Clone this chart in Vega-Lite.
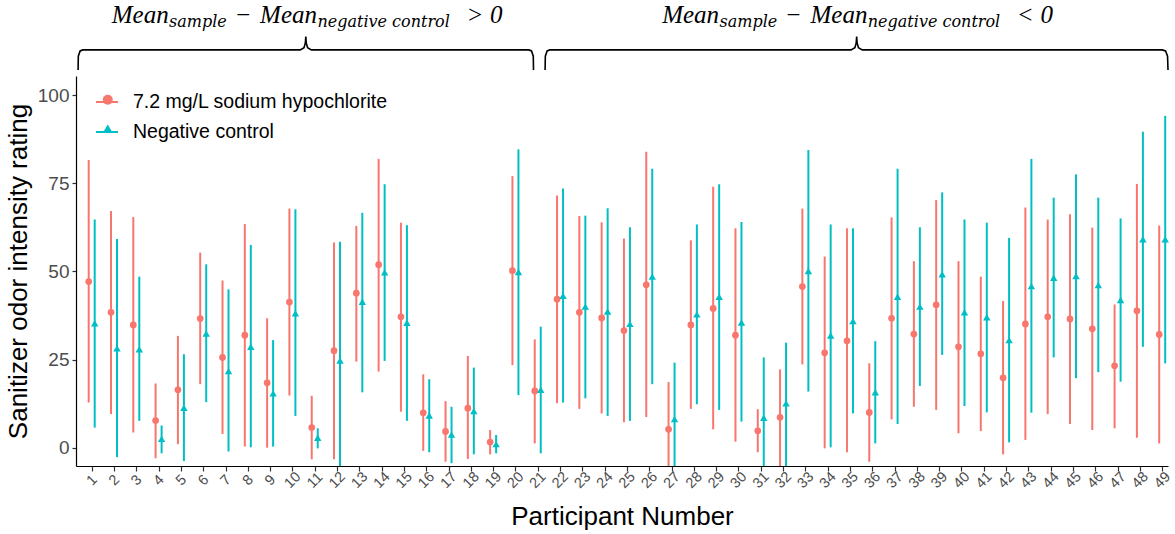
{
  "$schema": "https://vega.github.io/schema/vega-lite/v6.json",
  "width": 1092,
  "height": 390,
  "autosize": {"type": "none"},
  "padding": {"left": 76, "top": 76, "right": 7, "bottom": 68},
  "config": {
    "font": "Liberation Sans",
    "view": {"stroke": null},
    "axis": {
      "grid": false,
      "domainColor": "black",
      "domainWidth": 1.2,
      "tickColor": "#333333",
      "tickWidth": 1.2,
      "labelColor": "#4D4D4D",
      "titleColor": "black",
      "titleFontWeight": "normal",
      "titleFontSize": 26
    },
    "axisX": {"labelOverlap": false, "labelFlush": false}
  },
  "datasets": {
    "ratings": [
      {"p": 1, "g": "7.2 mg/L sodium hypochlorite", "m": 47.1, "lo": 12.8, "hi": 81.6},
      {"p": 1, "g": "Negative control", "m": 35.3, "lo": 5.7, "hi": 64.7},
      {"p": 2, "g": "7.2 mg/L sodium hypochlorite", "m": 38.4, "lo": 9.5, "hi": 67.1},
      {"p": 2, "g": "Negative control", "m": 28.2, "lo": -2.7, "hi": 59.2},
      {"p": 3, "g": "7.2 mg/L sodium hypochlorite", "m": 34.8, "lo": 4.3, "hi": 65.4},
      {"p": 3, "g": "Negative control", "m": 27.9, "lo": 7.6, "hi": 48.5},
      {"p": 4, "g": "7.2 mg/L sodium hypochlorite", "m": 7.7, "lo": -3.0, "hi": 18.2},
      {"p": 4, "g": "Negative control", "m": 2.5, "lo": -1.6, "hi": 6.3},
      {"p": 5, "g": "7.2 mg/L sodium hypochlorite", "m": 16.4, "lo": 1.0, "hi": 31.7},
      {"p": 5, "g": "Negative control", "m": 11.3, "lo": -3.8, "hi": 26.5},
      {"p": 6, "g": "7.2 mg/L sodium hypochlorite", "m": 36.6, "lo": 18.0, "hi": 55.3},
      {"p": 6, "g": "Negative control", "m": 32.4, "lo": 12.9, "hi": 52.0},
      {"p": 7, "g": "7.2 mg/L sodium hypochlorite", "m": 25.6, "lo": 3.9, "hi": 47.4},
      {"p": 7, "g": "Negative control", "m": 21.7, "lo": -1.1, "hi": 44.9},
      {"p": 8, "g": "7.2 mg/L sodium hypochlorite", "m": 31.9, "lo": 0.3, "hi": 63.4},
      {"p": 8, "g": "Negative control", "m": 28.6, "lo": 0.1, "hi": 57.5},
      {"p": 9, "g": "7.2 mg/L sodium hypochlorite", "m": 18.4, "lo": 0.0, "hi": 36.7},
      {"p": 9, "g": "Negative control", "m": 15.4, "lo": 0.3, "hi": 30.5},
      {"p": 10, "g": "7.2 mg/L sodium hypochlorite", "m": 41.3, "lo": 14.8, "hi": 67.8},
      {"p": 10, "g": "Negative control", "m": 38.1, "lo": 9.0, "hi": 67.6},
      {"p": 11, "g": "7.2 mg/L sodium hypochlorite", "m": 5.7, "lo": -3.3, "hi": 14.7},
      {"p": 11, "g": "Negative control", "m": 2.8, "lo": -0.2, "hi": 5.5},
      {"p": 12, "g": "7.2 mg/L sodium hypochlorite", "m": 27.5, "lo": -3.3, "hi": 58.2},
      {"p": 12, "g": "Negative control", "m": 24.7, "lo": -9.0, "hi": 58.4},
      {"p": 13, "g": "7.2 mg/L sodium hypochlorite", "m": 43.8, "lo": 24.4, "hi": 62.9},
      {"p": 13, "g": "Negative control", "m": 41.4, "lo": 15.7, "hi": 66.6},
      {"p": 14, "g": "7.2 mg/L sodium hypochlorite", "m": 51.9, "lo": 21.6, "hi": 81.9},
      {"p": 14, "g": "Negative control", "m": 49.7, "lo": 24.6, "hi": 74.7},
      {"p": 15, "g": "7.2 mg/L sodium hypochlorite", "m": 37.1, "lo": 10.2, "hi": 63.8},
      {"p": 15, "g": "Negative control", "m": 35.4, "lo": 7.6, "hi": 63.1},
      {"p": 16, "g": "7.2 mg/L sodium hypochlorite", "m": 9.9, "lo": -0.9, "hi": 20.8},
      {"p": 16, "g": "Negative control", "m": 9.1, "lo": -1.3, "hi": 19.4},
      {"p": 17, "g": "7.2 mg/L sodium hypochlorite", "m": 4.6, "lo": -4.0, "hi": 13.2},
      {"p": 17, "g": "Negative control", "m": 3.7, "lo": -4.4, "hi": 11.6},
      {"p": 18, "g": "7.2 mg/L sodium hypochlorite", "m": 11.2, "lo": -3.2, "hi": 26.0},
      {"p": 18, "g": "Negative control", "m": 10.4, "lo": -1.9, "hi": 22.7},
      {"p": 19, "g": "7.2 mg/L sodium hypochlorite", "m": 1.6, "lo": -1.9, "hi": 5.0},
      {"p": 19, "g": "Negative control", "m": 1.0, "lo": -1.6, "hi": 3.6},
      {"p": 20, "g": "7.2 mg/L sodium hypochlorite", "m": 50.2, "lo": 23.4, "hi": 77.0},
      {"p": 20, "g": "Negative control", "m": 49.8, "lo": 14.9, "hi": 84.6},
      {"p": 21, "g": "7.2 mg/L sodium hypochlorite", "m": 16.1, "lo": 1.2, "hi": 30.7},
      {"p": 21, "g": "Negative control", "m": 16.4, "lo": -1.6, "hi": 34.3},
      {"p": 22, "g": "7.2 mg/L sodium hypochlorite", "m": 42.1, "lo": 12.6, "hi": 71.5},
      {"p": 22, "g": "Negative control", "m": 43.1, "lo": 12.8, "hi": 73.5},
      {"p": 23, "g": "7.2 mg/L sodium hypochlorite", "m": 38.4, "lo": 11.0, "hi": 65.7},
      {"p": 23, "g": "Negative control", "m": 40.0, "lo": 14.0, "hi": 65.8},
      {"p": 24, "g": "7.2 mg/L sodium hypochlorite", "m": 36.8, "lo": 9.7, "hi": 63.9},
      {"p": 24, "g": "Negative control", "m": 38.6, "lo": 9.0, "hi": 67.9},
      {"p": 25, "g": "7.2 mg/L sodium hypochlorite", "m": 33.2, "lo": 7.2, "hi": 59.3},
      {"p": 25, "g": "Negative control", "m": 35.1, "lo": 7.6, "hi": 62.5},
      {"p": 26, "g": "7.2 mg/L sodium hypochlorite", "m": 46.2, "lo": 8.7, "hi": 83.9},
      {"p": 26, "g": "Negative control", "m": 48.5, "lo": 18.0, "hi": 79.1},
      {"p": 27, "g": "7.2 mg/L sodium hypochlorite", "m": 5.2, "lo": -9.0, "hi": 18.6},
      {"p": 27, "g": "Negative control", "m": 8.1, "lo": -9.0, "hi": 24.1},
      {"p": 28, "g": "7.2 mg/L sodium hypochlorite", "m": 34.8, "lo": 11.0, "hi": 58.8},
      {"p": 28, "g": "Negative control", "m": 37.8, "lo": 12.3, "hi": 63.3},
      {"p": 29, "g": "7.2 mg/L sodium hypochlorite", "m": 39.5, "lo": 5.2, "hi": 74.0},
      {"p": 29, "g": "Negative control", "m": 42.8, "lo": 10.7, "hi": 74.7},
      {"p": 30, "g": "7.2 mg/L sodium hypochlorite", "m": 31.9, "lo": 1.7, "hi": 62.2},
      {"p": 30, "g": "Negative control", "m": 35.5, "lo": 7.4, "hi": 64.0},
      {"p": 31, "g": "7.2 mg/L sodium hypochlorite", "m": 4.8, "lo": -1.3, "hi": 10.9},
      {"p": 31, "g": "Negative control", "m": 8.5, "lo": -9.0, "hi": 25.6},
      {"p": 32, "g": "7.2 mg/L sodium hypochlorite", "m": 8.6, "lo": -9.0, "hi": 22.2},
      {"p": 32, "g": "Negative control", "m": 12.6, "lo": -9.0, "hi": 29.8},
      {"p": 33, "g": "7.2 mg/L sodium hypochlorite", "m": 45.7, "lo": 23.6, "hi": 67.8},
      {"p": 33, "g": "Negative control", "m": 50.1, "lo": 15.9, "hi": 84.4},
      {"p": 34, "g": "7.2 mg/L sodium hypochlorite", "m": 26.9, "lo": -0.2, "hi": 54.2},
      {"p": 34, "g": "Negative control", "m": 31.8, "lo": 0.1, "hi": 63.3},
      {"p": 35, "g": "7.2 mg/L sodium hypochlorite", "m": 30.3, "lo": -1.3, "hi": 62.2},
      {"p": 35, "g": "Negative control", "m": 35.9, "lo": 9.7, "hi": 62.2},
      {"p": 36, "g": "7.2 mg/L sodium hypochlorite", "m": 10.0, "lo": -4.0, "hi": 23.9},
      {"p": 36, "g": "Negative control", "m": 15.7, "lo": 1.2, "hi": 30.2},
      {"p": 37, "g": "7.2 mg/L sodium hypochlorite", "m": 36.7, "lo": 8.0, "hi": 65.3},
      {"p": 37, "g": "Negative control", "m": 42.8, "lo": 6.7, "hi": 79.1},
      {"p": 38, "g": "7.2 mg/L sodium hypochlorite", "m": 32.2, "lo": 11.6, "hi": 52.9},
      {"p": 38, "g": "Negative control", "m": 40.0, "lo": 17.5, "hi": 62.5},
      {"p": 39, "g": "7.2 mg/L sodium hypochlorite", "m": 40.5, "lo": 10.7, "hi": 70.2},
      {"p": 39, "g": "Negative control", "m": 49.2, "lo": 26.3, "hi": 72.4},
      {"p": 40, "g": "7.2 mg/L sodium hypochlorite", "m": 28.6, "lo": 4.1, "hi": 52.9},
      {"p": 40, "g": "Negative control", "m": 38.4, "lo": 11.8, "hi": 64.7},
      {"p": 41, "g": "7.2 mg/L sodium hypochlorite", "m": 26.6, "lo": 4.7, "hi": 48.5},
      {"p": 41, "g": "Negative control", "m": 37.0, "lo": 10.0, "hi": 63.8},
      {"p": 42, "g": "7.2 mg/L sodium hypochlorite", "m": 19.8, "lo": -1.9, "hi": 41.6},
      {"p": 42, "g": "Negative control", "m": 30.5, "lo": 1.5, "hi": 59.5},
      {"p": 43, "g": "7.2 mg/L sodium hypochlorite", "m": 35.1, "lo": 2.2, "hi": 68.1},
      {"p": 43, "g": "Negative control", "m": 45.8, "lo": 9.9, "hi": 81.9},
      {"p": 44, "g": "7.2 mg/L sodium hypochlorite", "m": 37.1, "lo": 9.5, "hi": 64.7},
      {"p": 44, "g": "Negative control", "m": 48.2, "lo": 25.6, "hi": 70.9},
      {"p": 45, "g": "7.2 mg/L sodium hypochlorite", "m": 36.5, "lo": 6.7, "hi": 66.2},
      {"p": 45, "g": "Negative control", "m": 48.7, "lo": 19.7, "hi": 77.5},
      {"p": 46, "g": "7.2 mg/L sodium hypochlorite", "m": 33.7, "lo": 5.0, "hi": 62.4},
      {"p": 46, "g": "Negative control", "m": 46.1, "lo": 21.4, "hi": 70.9},
      {"p": 47, "g": "7.2 mg/L sodium hypochlorite", "m": 23.2, "lo": 5.5, "hi": 40.6},
      {"p": 47, "g": "Negative control", "m": 41.9, "lo": 18.7, "hi": 65.0},
      {"p": 48, "g": "7.2 mg/L sodium hypochlorite", "m": 38.8, "lo": 2.8, "hi": 74.8},
      {"p": 48, "g": "Negative control", "m": 59.1, "lo": 28.6, "hi": 89.6},
      {"p": 49, "g": "7.2 mg/L sodium hypochlorite", "m": 32.1, "lo": 1.2, "hi": 63.0},
      {"p": 49, "g": "Negative control", "m": 59.1, "lo": 23.9, "hi": 94.1}
    ],
    "brace": [
      {"b": "pos", "i": 1, "x": 0.39, "y": 107.1},
      {"b": "pos", "i": 2, "x": 0.4, "y": 111.0},
      {"b": "pos", "i": 3, "x": 0.48, "y": 112.5},
      {"b": "pos", "i": 4, "x": 0.6, "y": 112.8},
      {"b": "pos", "i": 5, "x": 10.35, "y": 112.8},
      {"b": "pos", "i": 6, "x": 10.52, "y": 113.4},
      {"b": "pos", "i": 7, "x": 10.58, "y": 114.8},
      {"b": "pos", "i": 8, "x": 10.6, "y": 116.6},
      {"b": "pos", "i": 9, "x": 10.62, "y": 114.8},
      {"b": "pos", "i": 10, "x": 10.68, "y": 113.4},
      {"b": "pos", "i": 11, "x": 10.85, "y": 112.8},
      {"b": "pos", "i": 12, "x": 20.6, "y": 112.8},
      {"b": "pos", "i": 13, "x": 20.72, "y": 112.5},
      {"b": "pos", "i": 14, "x": 20.8, "y": 111.0},
      {"b": "pos", "i": 15, "x": 20.81, "y": 107.1},
      {"b": "neg", "i": 1, "x": 21.33, "y": 107.1},
      {"b": "neg", "i": 2, "x": 21.34, "y": 111.0},
      {"b": "neg", "i": 3, "x": 21.42, "y": 112.5},
      {"b": "neg", "i": 4, "x": 21.54, "y": 112.8},
      {"b": "neg", "i": 5, "x": 35.05, "y": 112.8},
      {"b": "neg", "i": 6, "x": 35.22, "y": 113.4},
      {"b": "neg", "i": 7, "x": 35.28, "y": 114.8},
      {"b": "neg", "i": 8, "x": 35.3, "y": 116.6},
      {"b": "neg", "i": 9, "x": 35.32, "y": 114.8},
      {"b": "neg", "i": 10, "x": 35.38, "y": 113.4},
      {"b": "neg", "i": 11, "x": 35.55, "y": 112.8},
      {"b": "neg", "i": 12, "x": 49.0, "y": 112.8},
      {"b": "neg", "i": 13, "x": 49.15, "y": 112.5},
      {"b": "neg", "i": 14, "x": 49.24, "y": 111.0},
      {"b": "neg", "i": 15, "x": 49.26, "y": 107.1}
    ],
    "note": [
      {"x": 1.9, "t": "Mean", "part": "main"},
      {"x": 4.47, "t": "sample", "part": "sub"},
      {"x": 7.4, "t": "−", "part": "main"},
      {"x": 8.55, "t": "Mean", "part": "main"},
      {"x": 11.12, "t": "negative control", "part": "sub"},
      {"x": 17.8, "t": ">", "part": "main"},
      {"x": 18.86, "t": "0", "part": "main"},
      {"x": 26.58, "t": "Mean", "part": "main"},
      {"x": 29.15, "t": "sample", "part": "sub"},
      {"x": 32.08, "t": "−", "part": "main"},
      {"x": 33.23, "t": "Mean", "part": "main"},
      {"x": 35.8, "t": "negative control", "part": "sub"},
      {"x": 42.48, "t": "<", "part": "main"},
      {"x": 43.54, "t": "0", "part": "main"}
    ]
  },
  "layer": [
    {
      "data": {"name": "ratings"},
      "transform": [{"filter": "datum.g === '7.2 mg/L sodium hypochlorite'"}],
      "mark": {"type": "rule", "strokeWidth": 2, "xOffset": -3, "clip": true},
      "encoding": {
        "x": {
          "field": "p",
          "type": "quantitative",
          "scale": {"domain": [0.296, 49.26], "nice": false, "zero": false},
          "axis": {
            "title": "Participant Number",
            "values": [1, 2, 3, 4, 5, 6, 7, 8, 9, 10, 11, 12, 13, 14, 15, 16, 17, 18, 19, 20, 21, 22, 23, 24, 25, 26, 27, 28, 29, 30, 31, 32, 33, 34, 35, 36, 37, 38, 39, 40, 41, 42, 43, 44, 45, 46, 47, 48, 49],
            "tickCount": 60,
            "format": "d",
            "labelAngle": -45,
            "labelAlign": "center",
            "labelBaseline": "middle",
            "labelFontSize": 14.5,
            "labelPadding": 9,
            "labelOverlap": false,
            "labelFlush": false,
            "tickSize": 5,
            "titlePadding": 13
          }
        },
        "y": {
          "field": "lo",
          "type": "quantitative",
          "scale": {"domain": [-5.2, 105.4], "nice": false, "zero": false},
          "axis": {
            "title": "Sanitizer odor intensity rating",
            "values": [0, 25, 50, 75, 100],
            "labelFontSize": 19,
            "labelPadding": 3,
            "tickSize": 4,
            "titlePadding": 6
          }
        },
        "y2": {"field": "hi"},
        "stroke": {
          "field": "g",
          "type": "nominal",
          "scale": {"domain": ["7.2 mg/L sodium hypochlorite", "Negative control"], "range": ["#F8766D", "#00BFC4"]},
          "legend": {
            "orient": "none",
            "legendX": 19,
            "legendY": 14,
            "title": null,
            "padding": 0,
            "symbolType": "stroke",
            "symbolSize": 484,
            "symbolStrokeWidth": 2,
            "labelFontSize": 19.5,
            "labelColor": "black",
            "labelOffset": 14,
            "labelLimit": 400,
            "rowPadding": 8
          }
        }
      }
    },
    {
      "data": {"name": "ratings"},
      "transform": [{"filter": "datum.g === 'Negative control'"}],
      "mark": {"type": "rule", "strokeWidth": 2, "xOffset": 3, "clip": true},
      "encoding": {
        "x": {"field": "p", "type": "quantitative"},
        "y": {"field": "lo", "type": "quantitative"},
        "y2": {"field": "hi"},
        "stroke": {"field": "g", "type": "nominal"}
      }
    },
    {
      "data": {"name": "ratings"},
      "transform": [{"filter": "datum.g === '7.2 mg/L sodium hypochlorite'"}],
      "mark": {"type": "point", "filled": true, "opacity": 1, "size": 45, "strokeWidth": 0, "xOffset": -3},
      "encoding": {
        "x": {"field": "p", "type": "quantitative"},
        "y": {"field": "m", "type": "quantitative"},
        "fill": {
          "field": "g",
          "type": "nominal",
          "scale": {"range": ["#F8766D", "#00BFC4"]},
          "legend": {
            "orient": "none",
            "legendX": 22,
            "legendY": 14,
            "title": null,
            "padding": 0,
            "symbolStrokeWidth": 0,
            "labelFontSize": 19.5,
            "labelExpr": "' '",
            "labelLimit": 400,
            "rowPadding": 8
          }
        },
        "shape": {
          "field": "g",
          "type": "nominal",
          "scale": {"range": ["circle", "triangle-up"]},
          "legend": {
            "orient": "none",
            "legendX": 22,
            "legendY": 14,
            "title": null,
            "padding": 0,
            "symbolStrokeWidth": 0,
            "labelFontSize": 19.5,
            "labelExpr": "' '",
            "labelLimit": 400,
            "rowPadding": 8
          }
        }
      }
    },
    {
      "data": {"name": "ratings"},
      "transform": [{"filter": "datum.g === 'Negative control'"}],
      "mark": {"type": "point", "filled": true, "opacity": 1, "size": 55, "strokeWidth": 0, "xOffset": 3},
      "encoding": {
        "x": {"field": "p", "type": "quantitative"},
        "y": {"field": "m", "type": "quantitative"},
        "fill": {"field": "g", "type": "nominal"},
        "shape": {"field": "g", "type": "nominal"}
      }
    },
    {
      "data": {"name": "brace"},
      "mark": {"type": "line", "color": "black", "strokeWidth": 1.6, "clip": false},
      "encoding": {
        "x": {"field": "x", "type": "quantitative"},
        "y": {"field": "y", "type": "quantitative"},
        "detail": {"field": "b"},
        "order": {"field": "i", "type": "quantitative"}
      }
    },
    {
      "data": {"name": "note"},
      "transform": [{"filter": "datum.part === 'main'"}],
      "mark": {"type": "text", "font": "Liberation Serif", "fontStyle": "italic", "fontSize": 25, "align": "left", "baseline": "alphabetic", "color": "black", "clip": false},
      "encoding": {
        "x": {"field": "x", "type": "quantitative"},
        "y": {"datum": 120.4, "type": "quantitative"},
        "text": {"field": "t"}
      }
    },
    {
      "data": {"name": "note"},
      "transform": [{"filter": "datum.part === 'sub'"}],
      "mark": {"type": "text", "font": "DejaVu Serif", "fontStyle": "italic", "fontSize": 16, "align": "left", "baseline": "alphabetic", "color": "black", "clip": false},
      "encoding": {
        "x": {"field": "x", "type": "quantitative"},
        "y": {"datum": 119.3, "type": "quantitative"},
        "text": {"field": "t"}
      }
    }
  ]
}
